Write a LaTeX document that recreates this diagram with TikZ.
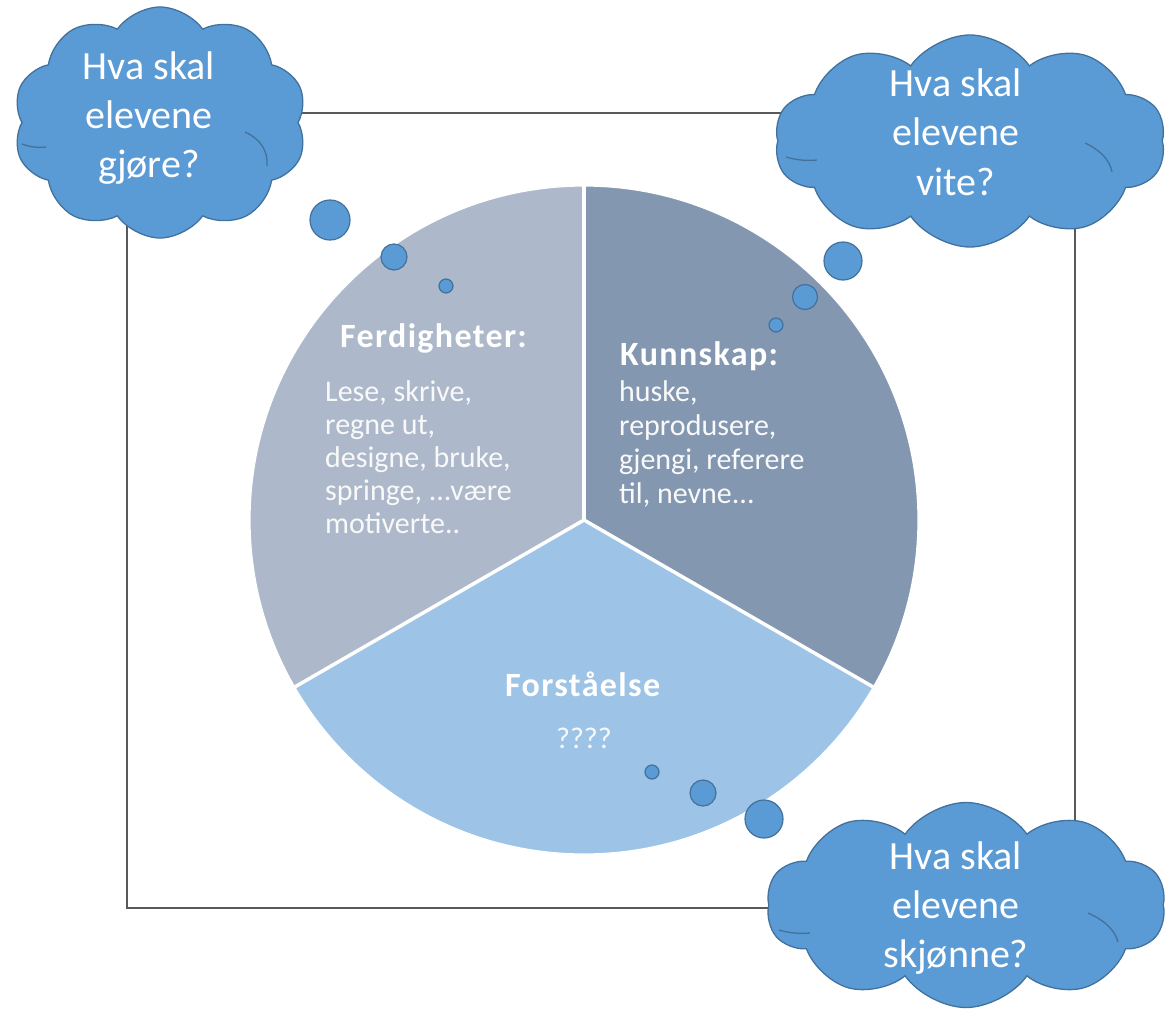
\documentclass[tikz,border=0pt]{standalone}
\usepackage{fontspec}
\setmainfont{Carlito}
\newfontfamily\titlefont[LetterSpace=4]{Carlito}
\usetikzlibrary{shapes.symbols}
\definecolor{cloudfill}{HTML}{5B9BD5}
\definecolor{cloudedge}{HTML}{41719C}
\definecolor{secA}{HTML}{ADB9CA}
\definecolor{secB}{HTML}{8497B0}
\definecolor{secC}{HTML}{9DC3E6}
\definecolor{framecol}{HTML}{595959}
\tikzset{
  thought/.style={cloud, cloud puffs=10, cloud puff arc=110, draw=cloudedge, fill=cloudfill, line width=1.3pt, inner sep=0pt},
  puffline/.style={draw=cloudedge, line width=1.3pt},
  bubble/.style={circle, draw=cloudedge, fill=cloudfill, line width=1.2pt, inner sep=0pt},
  cloudtext/.style={text=white, align=center, font=\fontsize{40}{49}\selectfont, inner sep=0pt},
  sectitle/.style={text=white, inner sep=0pt, font=\titlefont\bfseries\fontsize{34}{40}\selectfont},
  secbody/.style={text=white!95!gray, inner sep=0pt, align=left},
  divider/.style={draw=white, line width=3.5pt}
}
\begin{document}
\begin{tikzpicture}[x=1pt,y=1pt]
\useasboundingbox (0,0) rectangle (1166,-1011);
% frame
\node[draw=framecol, line width=1.3pt, minimum width=948pt, minimum height=795pt, inner sep=0pt] (frame) at (601,-510.5) {};
% pie
\coordinate (c) at (584,-520);
\fill[secA] (c) -- ++(90:334pt) arc[start angle=90, end angle=210, radius=334pt] -- cycle;
\fill[secB] (c) -- ++(-30:334pt) arc[start angle=-30, end angle=90, radius=334pt] -- cycle;
\fill[secC] (c) -- ++(210:334pt) arc[start angle=210, end angle=330, radius=334pt] -- cycle;
\draw[white, line width=1.2pt] (c) circle[radius=334pt];
\draw[divider] (c) -- ++(90:334pt);
\draw[divider] (c) -- ++(210:334pt);
\draw[divider] (c) -- ++(330:334pt);
% section texts
\node[sectitle, anchor=base west] (ferd) at (340,-347) {Ferdigheter:};
\node[secbody, anchor=north west, font=\fontsize{30}{33}\selectfont] (ferdbody) at (325,-380)
  {Lese, skrive,\\regne ut,\\designe, bruke,\\springe, ...være\\motiverte..};
\node[sectitle, anchor=base west] (kunn) at (620,-365) {Kunnskap:};
\node[secbody, anchor=north west, font=\fontsize{30}{34}\selectfont] (kunnbody) at (619,-380)
  {huske,\\reprodusere,\\gjengi, referere\\til, nevne...};
\node[sectitle, anchor=base west] (forst) at (505,-696) {Forståelse};
\node[text=white!95!gray, inner sep=0pt, anchor=base, font=\fontsize{30}{34}\selectfont] (qq) at (584,-748) {????};
% clouds
\node[thought, minimum width=294pt, minimum height=231pt] (cl1) at (160,-122.5) {};
\node[thought, minimum width=391pt, minimum height=212pt] (cl2) at (970,-141) {};
\node[thought, minimum width=399pt, minimum height=205pt] (cl3) at (966,-905) {};
% inner puff lines
\draw[puffline] (245,-132) .. controls (262,-140) and (268,-152) .. (267,-166);
\draw[puffline] (22,-144) .. controls (30,-147) and (38,-148) .. (46,-147);
\draw[puffline] (1085,-143) .. controls (1100,-150) and (1110,-160) .. (1112,-172);
\draw[puffline] (786,-157) .. controls (796,-160) and (806,-161) .. (817,-160);
\draw[puffline] (1088,-913) .. controls (1104,-920) and (1115,-930) .. (1118,-942);
\draw[puffline] (779,-930) .. controls (789,-933) and (799,-934) .. (810,-933);
% cloud texts
\node[cloudtext, anchor=base] (t1) at (149,-178) {Hva skal\\elevene\\gjøre?};
\node[cloudtext, anchor=base] (t2) at (956,-195) {Hva skal\\elevene\\vite?};
\node[cloudtext, anchor=base] (t3) at (956,-967) {Hva skal\\elevene\\skjønne?};
% bubbles
\node[bubble, minimum size=40pt] (b11) at (330,-220) {};
\node[bubble, minimum size=26pt] (b12) at (394,-257) {};
\node[bubble, minimum size=14pt] (b13) at (446,-286) {};
\node[bubble, minimum size=38pt] (b21) at (843,-261) {};
\node[bubble, minimum size=25pt] (b22) at (805,-297) {};
\node[bubble, minimum size=14pt] (b23) at (776,-325) {};
\node[bubble, minimum size=14pt] (b31) at (652,-772) {};
\node[bubble, minimum size=26pt] (b32) at (703,-793) {};
\node[bubble, minimum size=38pt] (b33) at (764,-819) {};
\end{tikzpicture}
\end{document}
